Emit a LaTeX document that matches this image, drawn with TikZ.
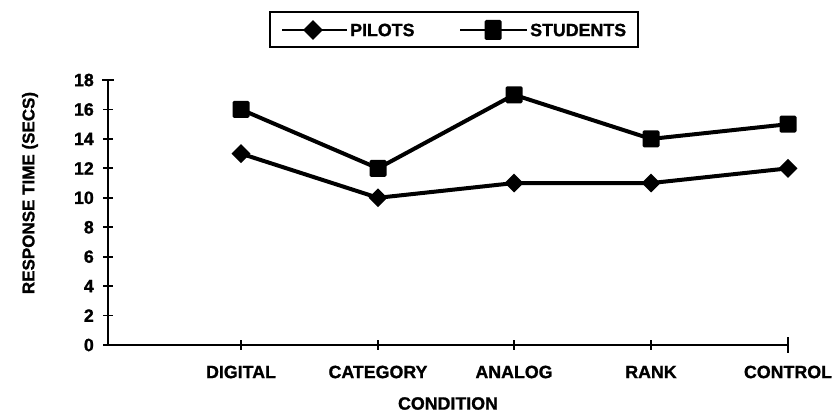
\documentclass[tikz,border=0pt]{standalone}
\usepackage{fontspec}
\setmainfont{Liberation Sans}[BoldFeatures={FakeBold=1.2}]
\usetikzlibrary{shapes.geometric}
\begin{document}
\begin{tikzpicture}[x=1pt,y=-1pt,
  lbl/.style={font=\fontsize{17.8}{20}\selectfont\bfseries, inner sep=0pt},
  ylbl/.style={font=\fontsize{17}{20}\selectfont\bfseries, inner sep=0pt},
  sqmark/.style={rectangle, fill=black, minimum width=17pt, minimum height=17pt, inner sep=0pt, rounded corners=1.5pt},
  dmmark/.style={diamond, fill=black, minimum width=19pt, minimum height=19pt, inner sep=0pt, aspect=1},
  series/.style={line width=4pt, line join=round},
  axisline/.style={line width=2.8pt},
  tickline/.style={line width=1.8pt},
  legline/.style={line width=2.5pt}]
\useasboundingbox (0,0) rectangle (834,414);
% legend
\node[draw, line width=2pt, minimum width=368pt, minimum height=35pt, inner sep=0pt] (legend) at (454,29.5) {};
\coordinate (pa) at (282,30); \coordinate (pb) at (347,30);
\node[dmmark, minimum width=20pt, minimum height=20pt] (pm) at (313,30) {};
\draw[legline] (pa) -- (pb);
\node[lbl, anchor=west] (pl) at (350,30) {PILOTS};
\coordinate (sa) at (460,30); \coordinate (sb) at (527,30);
\draw[legline] (sa) -- (sb);
\node[sqmark, minimum width=17pt, minimum height=20pt] (sm) at (493,30) {};
\node[lbl, anchor=west] (sl) at (530,30) {STUDENTS};
% axes
\coordinate (O) at (108,345);
\coordinate (ytop) at (108,80);
\coordinate (xend) at (788,345);
\draw[axisline] (ytop) -- (O) -- (xend);
\draw[tickline] (102,80) -- (114,80);
\foreach \v in {0,2,...,16} {
  \draw[tickline] (103,{345-14.72*\v}) -- (113,{345-14.72*\v});
}
\foreach \v in {0,2,...,18} {
  \node[lbl, anchor=east] (t\v) at (94,{345-14.72*\v}) {\v};
}
\foreach \x in {241,378,514,651} {
  \draw[tickline] (\x,340) -- (\x,350);
}
\draw[tickline] (788,337) -- (788,353);
\node[lbl] (c1) at (241,372) {DIGITAL};
\node[lbl] (c2) at (378,372) {CATEGORY};
\node[lbl] (c3) at (514,372) {ANALOG};
\node[lbl] (c4) at (651,372) {RANK};
\node[lbl] (c5) at (788,372) {CONTROL};
\node[lbl] (xt) at (448,403.5) {CONDITION};
\node[ylbl, rotate=90] (yt) at (30,193) {RESPONSE TIME (SECS)};
% students
\node[sqmark] (s1) at (241,{345-14.72*16}) {};
\node[sqmark] (s2) at (378,{345-14.72*12}) {};
\node[sqmark] (s3) at (514,{345-14.72*17}) {};
\node[sqmark] (s4) at (651,{345-14.72*14}) {};
\node[sqmark] (s5) at (788,{345-14.72*15}) {};
\draw[series] (s1.center) -- (s2.center) -- (s3.center) -- (s4.center) -- (s5.center);
% pilots
\node[dmmark] (p1) at (241,{345-14.72*13}) {};
\node[dmmark] (p2) at (378,{345-14.72*10}) {};
\node[dmmark] (p3) at (514,{345-14.72*11}) {};
\node[dmmark] (p4) at (651,{345-14.72*11}) {};
\node[dmmark] (p5) at (788,{345-14.72*12}) {};
\draw[series] (p1.center) -- (p2.center) -- (p3.center) -- (p4.center) -- (p5.center);
\end{tikzpicture}
\end{document}
